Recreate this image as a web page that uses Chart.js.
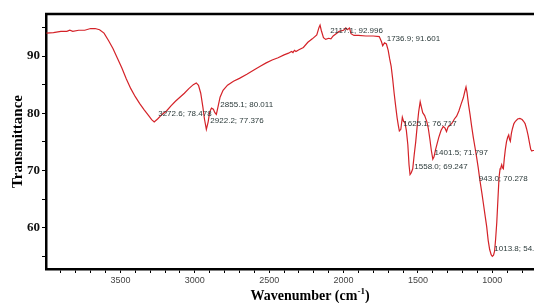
<!DOCTYPE html>
<html>
<head>
<meta charset="utf-8">
<script src="https://cdn.jsdelivr.net/npm/chart.js@4/dist/chart.umd.min.js"></script>
<style>
  html, body { margin: 0; padding: 0; background: #fff; }
</style>
</head>
<body>
<canvas id="ftirChart" width="534" height="303"></canvas>
<script>
// FTIR spectrum
const wavenumber = [
  3997, 3950, 3900, 3860, 3840, 3820, 3780, 3740, 3700, 3670, 3640, 3610, 3580, 3550, 3520,
  3490, 3460, 3430, 3400, 3370, 3340, 3310, 3290, 3272.6, 3250, 3220, 3190, 3160, 3130, 3100,
  3070, 3040, 3010, 2990, 2975, 2960, 2945, 2935, 2922.2, 2910, 2900, 2888, 2875, 2865, 2855.1,
  2845, 2830, 2810, 2780, 2740, 2700, 2650, 2600, 2560, 2520, 2480, 2440, 2400, 2370, 2350,
  2340, 2330, 2320, 2300, 2270, 2240, 2210, 2180, 2165, 2158, 2150, 2135, 2120, 2100, 2085,
  2070, 2050, 2030, 2000, 1985, 1975, 1960, 1950, 1930, 1900, 1850, 1800, 1760, 1745, 1736.9,
  1725, 1712, 1700, 1690, 1680, 1670, 1660, 1650, 1640, 1632, 1625, 1615, 1605, 1597, 1588,
  1578, 1568, 1560, 1553, 1545, 1535, 1525, 1515, 1505, 1495, 1485, 1478, 1468, 1455, 1440,
  1430, 1420, 1410, 1400, 1392, 1382, 1372, 1360, 1345, 1330, 1318, 1308, 1298, 1285, 1270,
  1255, 1240, 1225, 1210, 1195, 1185, 1177, 1170, 1160, 1150, 1140, 1128, 1115, 1105, 1095,
  1083, 1070, 1060, 1048, 1038, 1028, 1018, 1008, 1000, 992, 985, 978, 970, 962, 955,
  948, 943, 937, 932, 926, 920, 913, 905, 897, 890, 884, 879, 872, 865, 855,
  845, 830, 815, 800, 790, 780, 770, 760, 750, 742, 735, 728, 720
];
const transmittance = [
  94.0, 94.1, 94.3, 94.3, 94.5, 94.3, 94.5, 94.5, 94.8, 94.8, 94.6, 94.0, 92.7, 91.3, 89.6,
  87.9, 86.0, 84.3, 82.9, 81.7, 80.6, 79.6, 78.9, 78.48, 79.0, 79.8, 80.4, 81.3, 82.1, 82.8,
  83.5, 84.3, 85.0, 85.3, 84.9, 83.5, 81.0, 79.0, 77.2, 78.5, 80.2, 80.9, 80.7, 80.1, 79.8,
  81.0, 82.8, 84.0, 84.9, 85.6, 86.1, 86.8, 87.6, 88.2, 88.8, 89.3, 89.7, 90.2, 90.5, 90.8,
  90.6, 91.0, 90.8, 91.1, 91.5, 92.4, 93.0, 93.7, 95.0, 95.4, 94.5, 93.2, 92.9, 93.1, 93.0,
  93.5, 93.9, 94.3, 94.5, 94.9, 94.6, 94.9, 93.9, 93.6, 93.6, 93.5, 93.5, 93.4, 92.5, 91.8,
  92.3, 92.1, 91.0, 89.5, 88.2, 86.0, 83.5, 81.3, 79.2, 77.9, 76.9, 77.2, 79.3, 78.6, 78.4,
  77.0, 74.5, 71.0, 69.3, 69.6, 70.3, 72.8, 75.0, 77.8, 80.3, 82.0, 81.2, 80.1, 79.6, 78.5,
  77.3, 75.5, 73.5, 72.0, 72.4, 73.6, 74.6, 75.8, 77.0, 77.7, 77.4, 76.8, 77.6, 77.9, 78.3,
  79.0, 79.5, 80.4, 81.6, 82.7, 83.8, 84.6, 83.6, 81.5, 79.8, 77.9, 75.8, 73.8, 72.2, 70.5,
  68.2, 66.0, 64.2, 62.0, 60.2, 57.8, 56.2, 55.3, 55.0, 55.2, 55.9, 58.0, 61.0, 65.2, 68.8,
  70.3, 70.5, 71.0, 70.5, 70.3, 72.0, 73.6, 75.0, 75.8, 76.2, 75.4, 75.1, 76.5, 77.3, 78.2,
  78.6, 79.0, 79.1, 78.9, 78.6, 78.2, 77.3, 76.2, 74.8, 73.7, 73.4, 73.5, 73.5
];

// labelled peaks
const peakWavenumber = [3272.6, 2922.2, 2855.1, 2117.1, 1736.9, 1625.1, 1558.0, 1401.5, 943.0, 1013.8];
const peakTransmittance = [78.478, 77.376, 80.011, 92.996, 91.601, 76.717, 69.247, 71.797, 70.278, 54.951];

const xTickLabels = [3500, 3000, 2500, 2000, 1500, 1000];
const yTickLabels = [60, 70, 80, 90];

const points = wavenumber.map((w, i) => ({ x: w, y: transmittance[i] }));

// where each peak label sits relative to its point (px)
const labelNudge = { '943.0': [-22, 10], '1401.5': [2, -7], '1558.0': [5, -8] };

const overlay = {
  id: 'overlay',
  afterDraw(chart) {
    const ctx = chart.ctx;
    const area = chart.chartArea;
    const xs = chart.scales.x, ys = chart.scales.y;
    ctx.save();

    // top frame line
    ctx.strokeStyle = '#000';
    ctx.lineWidth = 2.5;
    ctx.beginPath();
    ctx.moveTo(area.left - 1, area.top);
    ctx.lineTo(chart.width, area.top);
    ctx.stroke();

    // peak labels
    ctx.font = '8px "Liberation Sans", Arial, sans-serif';
    ctx.fillStyle = '#2b3a3a';
    ctx.textBaseline = 'middle';
    ctx.textAlign = 'left';
    peakWavenumber.forEach((w, i) => {
      const key = w.toFixed(1);
      const nudge = labelNudge[key] || [4, -8];
      const px = xs.getPixelForValue(w);
      const py = ys.getPixelForValue(peakTransmittance[i]);
      ctx.fillText(key + '; ' + peakTransmittance[i].toFixed(3), px + nudge[0], py + nudge[1]);
    });

    // axis titles
    ctx.fillStyle = '#000';
    ctx.textBaseline = 'alphabetic';
    ctx.font = 'bold 14px "Liberation Serif", "Times New Roman", serif';
    const main = 'Wavenumber (cm';
    const supTxt = '-1';
    const close = ')';
    const wMain = ctx.measureText(main).width;
    ctx.font = 'bold 9px "Liberation Serif", "Times New Roman", serif';
    const wSup = ctx.measureText(supTxt).width;
    ctx.font = 'bold 14px "Liberation Serif", "Times New Roman", serif';
    const wClose = ctx.measureText(close).width;
    let tx = 310 - (wMain + wSup + wClose) / 2;
    const ty = 300;
    ctx.fillText(main, tx, ty);
    tx += wMain;
    ctx.font = 'bold 9px "Liberation Serif", "Times New Roman", serif';
    ctx.fillText(supTxt, tx, ty - 6);
    tx += wSup;
    ctx.font = 'bold 14px "Liberation Serif", "Times New Roman", serif';
    ctx.fillText(close, tx, ty);

    ctx.translate(18, (area.top + area.bottom) / 2);
    ctx.rotate(-Math.PI / 2);
    ctx.textAlign = 'center';
    ctx.textBaseline = 'middle';
    ctx.font = 'bold 15px "Liberation Serif", "Times New Roman", serif';
    ctx.fillText('Transmittance', 0, 0);
    ctx.restore();
  }
};

new Chart(document.getElementById('ftirChart'), {
  type: 'scatter',
  data: {
    datasets: [{
      data: points,
      showLine: true,
      borderColor: 'rgb(212, 34, 40)',
      borderWidth: 1.2,
      pointRadius: 0,
      tension: 0
    }]
  },
  options: {
    responsive: false,
    animation: false,
    layout: { padding: { top: 14, left: 0, right: 0, bottom: 0 } },
    plugins: { legend: { display: false }, tooltip: { enabled: false } },
    scales: {
      x: {
        type: 'linear',
        reverse: true,
        min: 720,
        max: 4000,
        afterBuildTicks: s => {
          const t = [];
          for (let v = 3900; v >= 800; v -= 100) t.push({ value: v });
          s.ticks = t;
        },
        afterFit: s => { s.height = 34; },
        ticks: {
          autoSkip: false,
          maxRotation: 0,
          padding: 2,
          color: '#444',
          font: { family: '"Liberation Sans", Arial, sans-serif', size: 9 },
          callback: v => xTickLabels.includes(v) ? String(v) : ''
        },
        grid: { drawOnChartArea: false, tickLength: 4, tickColor: '#000', tickWidth: 1 },
        border: { color: '#000', width: 2.5 }
      },
      y: {
        min: 52.8,
        max: 97.34,
        afterBuildTicks: s => {
          const t = [];
          for (let v = 55; v <= 95; v += 5) t.push({ value: v });
          s.ticks = t;
        },
        afterFit: s => { s.width = 46; },
        ticks: {
          autoSkip: false,
          padding: 2,
          color: '#111',
          font: { family: '"Liberation Serif", "Times New Roman", serif', size: 13, weight: 'bold' },
          callback: v => yTickLabels.includes(v) ? String(v) : ''
        },
        grid: { drawOnChartArea: false, tickLength: 4, tickColor: '#000', tickWidth: 1 },
        border: { color: '#000', width: 2.5 }
      }
    }
  },
  plugins: [overlay]
});
</script>
</body>
</html>
